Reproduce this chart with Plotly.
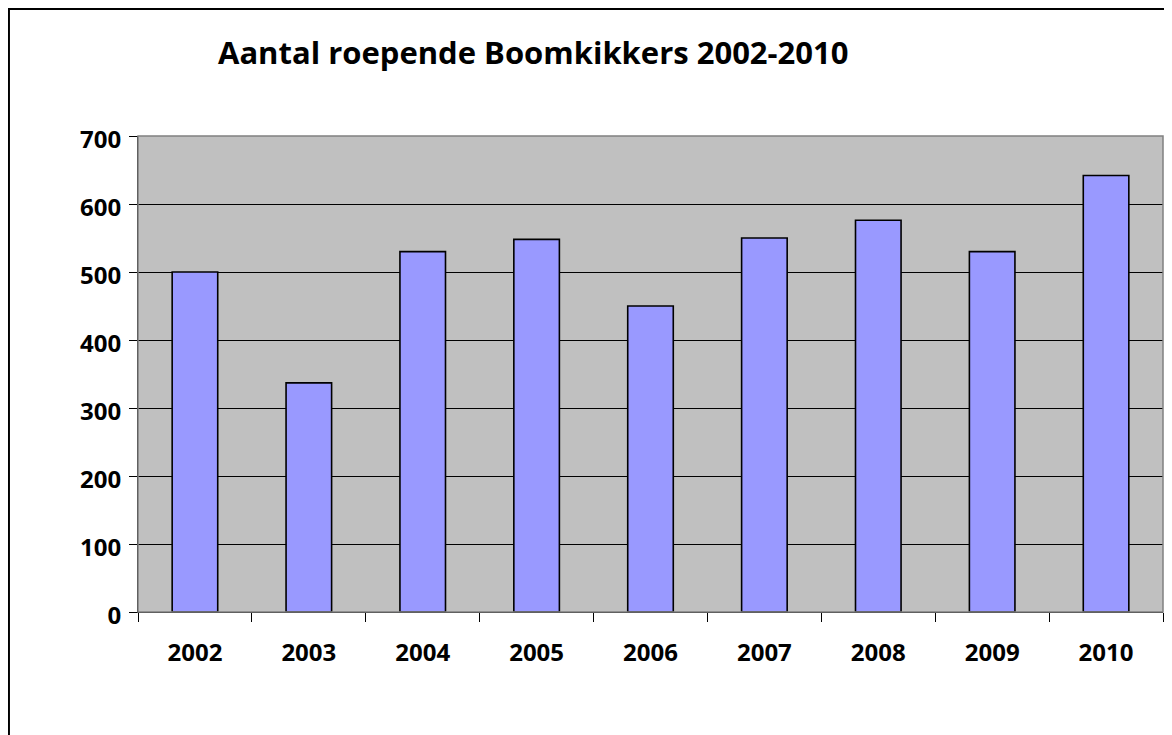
import plotly.graph_objects as go

years = ["2002", "2003", "2004", "2005", "2006", "2007", "2008", "2009", "2010"]
counts = [500, 337, 530, 548, 450, 550, 576, 530, 642]
y_ticks = [0, 100, 200, 300, 400, 500, 600, 700]

FONT = "Open Sans"

fig = go.Figure()
fig.add_trace(go.Bar(
    x=years, y=counts,
    marker=dict(color="#9999FF", line=dict(color="#000000", width=1.6)),
    width=0.4,
))

fig.update_layout(
    width=1164, height=727,
    paper_bgcolor="white",
    plot_bgcolor="#C0C0C0",
    margin=dict(l=130, r=9, t=128, b=123),
    showlegend=False,
    font=dict(family=FONT, color="black"),
    annotations=[dict(
        text="<b>Aantal roepende Boomkikkers 2002-2010</b>",
        xref="paper", yref="paper", x=0.076, y=1.1765,
        xanchor="left", yanchor="middle", showarrow=False,
        font=dict(family=FONT, size=31, color="black"),
    )],
    shapes=[
        dict(type="rect", xref="paper", yref="paper",
             x0=-0.1259, x1=1.1, y0=-0.5, y1=1.2668,
             line=dict(color="black", width=2), fillcolor="rgba(0,0,0,0)", layer="below"),
        dict(type="rect", xref="paper", yref="paper",
             x0=0, x1=1, y0=0, y1=1,
             line=dict(color="#808080", width=1.5), fillcolor="rgba(0,0,0,0)"),
    ],
)

fig.update_xaxes(
    type="category",
    tickson="boundaries",
    tickvals=years,
    ticktext=[f"<b>{y}</b>" for y in years],
    ticks="outside", ticklen=9, tickcolor="#000000", tickwidth=1,
    showgrid=False,
    showline=True, linecolor="black", linewidth=1,
    tickfont=dict(family=FONT, size=24, color="black"),
    ticklabelstandoff=19,
)
fig.update_yaxes(
    range=[0, 700],
    tickvals=y_ticks,
    ticktext=[f"<b>{v}</b>" for v in y_ticks],
    ticks="outside", ticklen=8, tickcolor="#000000", tickwidth=1,
    showgrid=True, gridcolor="#000000", gridwidth=1,
    showline=True, linecolor="black", linewidth=1,
    zeroline=False,
    tickfont=dict(family=FONT, size=24, color="black"),
    ticklabelstandoff=3,
    ticklabelshift=4,
)

fig.write_html("out.html")
